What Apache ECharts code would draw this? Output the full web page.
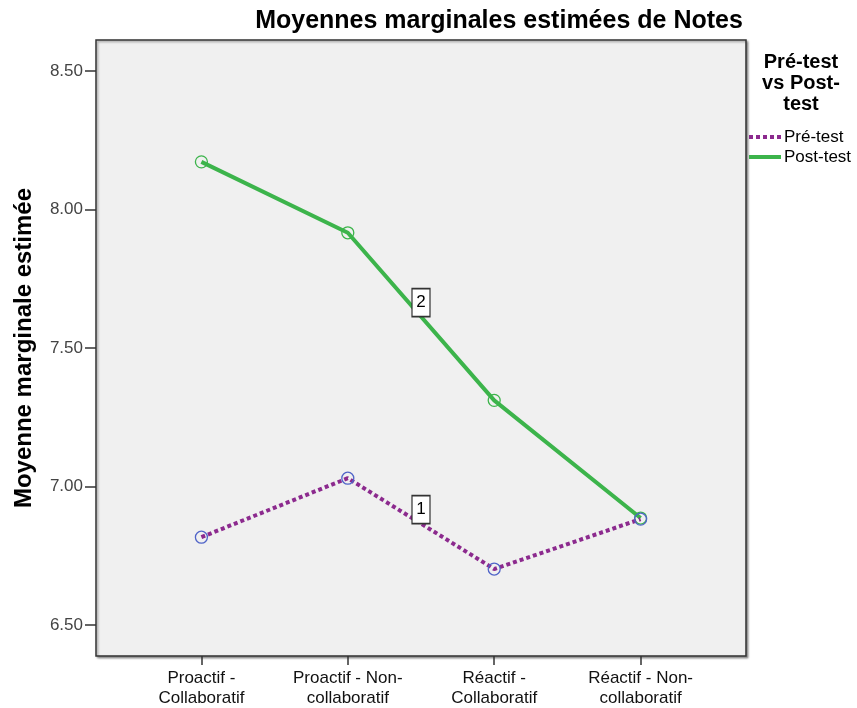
<!DOCTYPE html>
<html>
<head>
<meta charset="utf-8">
<style>
  html, body { margin: 0; padding: 0; background: #fff; }
  #chart { width: 857px; height: 708px; }
</style>
<script src="https://cdn.jsdelivr.net/npm/echarts@6/dist/echarts.min.js"></script>
</head>
<body>
<div id="chart"></div>
<script>
// Categories (groups) on the horizontal axis
const categories = [
  'Proactif -\nCollaboratif',
  'Proactif - Non-\ncollaboratif',
  'Réactif -\nCollaboratif',
  'Réactif - Non-\ncollaboratif'
];
// Estimated marginal means for each factor level
const preTest = [6.817, 7.030, 6.702, 6.882];
const postTest = [8.172, 7.916, 7.311, 6.886];
// Y tick labels
const yTicks = [6.5, 7.0, 7.5, 8.0, 8.5];
const seriesNames = ['Pré-test', 'Post-test'];
const seriesTags = ['1', '2'];

const PRE_LINE = '#8c2a8e';
const PRE_MARK = '#5064c8';
const POST_LINE = '#3cb44b';
const FONT = '"Liberation Sans", Arial, sans-serif';

const catIdx = categories.map((_, i) => i);

function tagPoint(values, tag) {
  return {
    symbol: 'rect',
    symbolSize: [18, 28],
    symbolOffset: [0, '-50%'],
    silent: true,
    itemStyle: { color: '#ffffff', borderColor: '#333333', borderWidth: 1.5 },
    label: {
      show: true, position: 'inside', formatter: tag,
      color: '#000', fontSize: 17, fontFamily: FONT
    },
    data: [{ coord: [1.5, (values[1] + values[2]) / 2] }]
  };
}

const chart = echarts.init(document.getElementById('chart'));
chart.setOption({
  animation: false,
  backgroundColor: '#ffffff',
  title: {
    text: 'Moyennes marginales estimées de Notes',
    left: 494, top: 4, textAlign: 'center',
    textStyle: { fontFamily: FONT, fontSize: 25, fontWeight: 'bold', color: '#000' }
  },
  grid: {
    left: 96, right: 111, top: 40, bottom: 51,
    show: true, backgroundColor: '#f0f0f0',
    borderColor: '#333333', borderWidth: 1.5,
    shadowColor: 'rgba(0,0,0,0.35)', shadowBlur: 2, shadowOffsetX: 1.5, shadowOffsetY: 1.5
  },
  xAxis: {
    type: 'value', min: -0.72, max: 3.72,
    splitLine: { show: false },
    axisLine: { show: false, onZero: false },
    axisTick: { show: true, customValues: catIdx, length: 9, lineStyle: { color: '#333', width: 1.5 } },
    axisLabel: {
      customValues: catIdx, margin: 12,
      formatter: v => categories[Math.round(v)],
      fontFamily: FONT, fontSize: 17, color: '#111', lineHeight: 20, align: 'center'
    }
  },
  yAxis: {
    type: 'value', min: 6.388, max: 8.612,
    name: 'Moyenne marginale estimée', nameLocation: 'middle', nameGap: 60,
    nameTextStyle: { fontFamily: FONT, fontSize: 24, fontWeight: 'bold', color: '#000' },
    splitLine: { show: false },
    axisLine: { show: false, onZero: false },
    axisTick: { show: true, customValues: yTicks, length: 11, lineStyle: { color: '#333', width: 1.5 } },
    axisLabel: {
      customValues: yTicks, margin: 13,
      formatter: v => v.toFixed(2),
      fontFamily: FONT, fontSize: 17, color: '#444'
    }
  },
  graphic: [
    {
      type: 'text', x: 801, y: 52,
      style: {
        text: 'Pré-test\nvs Post-\ntest',
        align: 'center',
        font: 'bold 20px ' + FONT, fill: '#000', lineHeight: 21
      }
    },
    {
      type: 'line', shape: { x1: 749, y1: 137, x2: 781, y2: 137 },
      style: { stroke: PRE_LINE, lineWidth: 4, lineDash: [4, 3] }
    },
    {
      type: 'text', x: 784, y: 137,
      style: { text: seriesNames[0], font: '17px ' + FONT, fill: '#000', verticalAlign: 'middle' }
    },
    {
      type: 'line', shape: { x1: 749, y1: 157, x2: 781, y2: 157 },
      style: { stroke: POST_LINE, lineWidth: 4 }
    },
    {
      type: 'text', x: 784, y: 157,
      style: { text: seriesNames[1], font: '17px ' + FONT, fill: '#000', verticalAlign: 'middle' }
    }
  ],
  series: [
    {
      name: seriesNames[0], type: 'line',
      data: preTest.map((v, i) => [i, v]),
      symbol: 'circle', symbolSize: 12,
      itemStyle: { color: 'rgba(0,0,0,0)', borderColor: PRE_MARK, borderWidth: 1.3 },
      lineStyle: { color: PRE_LINE, width: 4, type: [4, 3], cap: 'butt' },
      z: 3,
      markPoint: tagPoint(preTest, seriesTags[0])
    },
    {
      name: seriesNames[1], type: 'line',
      data: postTest.map((v, i) => [i, v]),
      symbol: 'circle', symbolSize: 12,
      itemStyle: { color: 'rgba(0,0,0,0)', borderColor: POST_LINE, borderWidth: 1.3 },
      lineStyle: { color: POST_LINE, width: 4 },
      z: 2,
      markPoint: tagPoint(postTest, seriesTags[1])
    }
  ]
});
</script>
</body>
</html>
